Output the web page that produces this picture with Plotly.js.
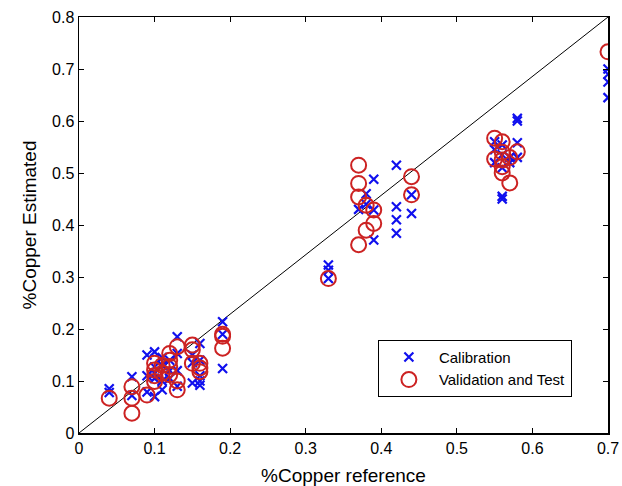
<!DOCTYPE html>
<html>
<head>
<meta charset="utf-8">
<script src="https://cdn.plot.ly/plotly-3.0.1.min.js"></script>
<style>html,body{margin:0;padding:0;background:#fff;}#chart{width:622px;height:486px;}</style>
</head>
<body>
<div id="chart"></div>
<script>
// Calibration set
var calX = [0.04,0.04, 0.07,0.07, 0.09,0.09,0.09, 0.10,0.10,0.10,0.10,0.10, 0.11,0.11,0.11,0.11,
            0.12,0.12,0.12, 0.13,0.13,0.13,0.13, 0.15,0.15,0.15, 0.16,0.16,0.16,0.16,0.16,
            0.19,0.19,0.19, 0.33,0.33,0.33, 0.37, 0.38,0.38, 0.39,0.39,0.39,
            0.42,0.42,0.42,0.42, 0.44,0.44, 0.55,0.55,0.55, 0.56,0.56,0.56,0.56,0.56,
            0.57,0.57, 0.58,0.58,0.58,0.58, 0.70,0.70,0.70,0.70];
var calY = [0.085,0.078, 0.108,0.072, 0.150,0.079,0.110, 0.156,0.127,0.070,0.115,0.105, 0.083,0.130,0.145,0.100,
            0.140,0.120,0.105, 0.185,0.153,0.090,0.120, 0.096,0.150,0.135, 0.092,0.172,0.140,0.100,0.110,
            0.214,0.190,0.124, 0.323,0.313,0.297, 0.430, 0.460,0.440, 0.488,0.429,0.371,
            0.515,0.435,0.410,0.384, 0.458,0.422, 0.560,0.545,0.520, 0.554,0.535,0.510,0.455,0.450,
            0.530,0.520, 0.605,0.600,0.558,0.530, 0.700,0.690,0.675,0.645];
// Validation and test set
var valX = [0.04, 0.07,0.07,0.07, 0.09, 0.10,0.10,0.10,0.10, 0.11,0.11, 0.12,0.12,0.12,0.12,
            0.13,0.13,0.13, 0.15,0.15,0.15, 0.16,0.16,0.16, 0.19,0.19,0.19, 0.33,
            0.37,0.37,0.37,0.37, 0.38,0.38, 0.39,0.39, 0.44,0.44, 0.55,0.55,
            0.56,0.56,0.56,0.56,0.56, 0.57,0.57, 0.58, 0.70];
var valY = [0.067, 0.089,0.067,0.038, 0.073, 0.134,0.121,0.099,0.110, 0.115,0.130, 0.153,0.128,0.112,0.140,
            0.083,0.166,0.100, 0.169,0.160,0.134, 0.134,0.118,0.125, 0.190,0.186,0.163, 0.297,
            0.515,0.480,0.454,0.362, 0.438,0.390, 0.429,0.403, 0.493,0.458, 0.567,0.527,
            0.560,0.525,0.512,0.500,0.540, 0.481,0.530, 0.541, 0.733];
// Reference line
var lineX = [0, 0.7];
var lineY = [0, 0.8];

var traces = [
  {x: lineX, y: lineY, mode: 'lines', line: {color: '#000', width: 1}, showlegend: false, hoverinfo: 'skip'},
  {x: calX, y: calY, mode: 'markers', name: 'Calibration',
   marker: {symbol: 'x-thin', size: 9, color: '#1010ee', line: {color: '#1010ee', width: 2.2}}},
  {x: valX, y: valY, mode: 'markers', name: 'Validation and Test',
   marker: {symbol: 'circle-open', size: 15, color: '#cc2222', line: {color: '#cc2222', width: 2}}}
];

var fam = 'Liberation Sans, Arial, sans-serif';
var axisCommon = {
  showgrid: false, zeroline: false, showline: true, linecolor: '#000', linewidth: 1.5,
  mirror: 'ticks', ticks: 'inside', ticklen: 5, tickwidth: 1, tickcolor: '#000',
  tickfont: {family: fam, size: 16, color: '#000'}
};

var layout = {
  width: 622, height: 486,
  margin: {l: 79, r: 14, t: 17, b: 53},
  paper_bgcolor: '#fff', plot_bgcolor: '#fff',
  xaxis: Object.assign({}, axisCommon, {range: [0, 0.7], dtick: 0.1, tick0: 0,
    title: {text: '%Copper reference', standoff: 14, font: {family: fam, size: 19, color: '#000'}}}),
  yaxis: Object.assign({}, axisCommon, {range: [0, 0.8], dtick: 0.1, tick0: 0,
    title: {text: '%Copper Estimated', standoff: 10, font: {family: fam, size: 19, color: '#000'}}}),
  legend: {x: 0.565, y: 0.224, xanchor: 'left', yanchor: 'top', bgcolor: '#fff',
    bordercolor: '#000', borderwidth: 1, tracegroupgap: 0, itemwidth: 50,
    font: {family: fam, size: 15, color: '#000'}},
  showlegend: true
};

Plotly.newPlot('chart', traces, layout, {displayModeBar: false, staticPlot: true});
</script>
</body>
</html>
